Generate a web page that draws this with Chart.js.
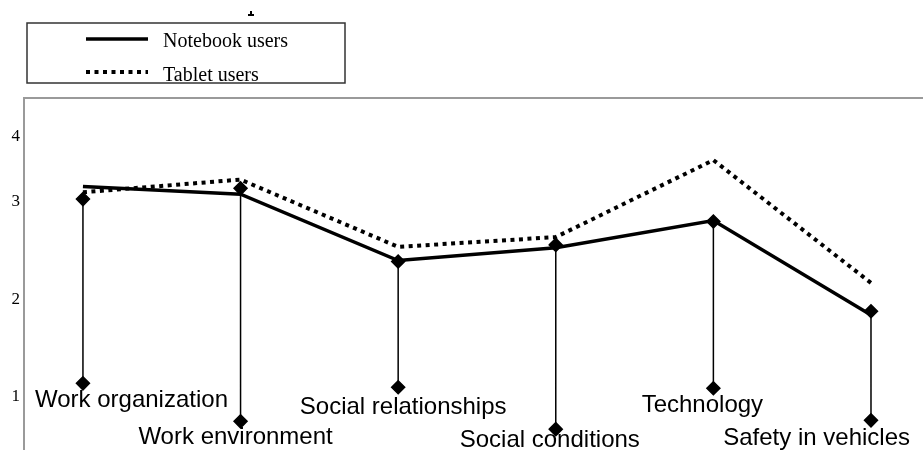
<!DOCTYPE html>
<html>
<head>
<meta charset="utf-8">
<script src="https://cdn.jsdelivr.net/npm/chart.js@4.4.1/dist/chart.umd.min.js"></script>
<style>
  html, body { margin: 0; padding: 0; background: #fff; }
  #wrap { width: 923px; height: 450px; }
</style>
</head>
<body>
<div id="wrap"><canvas id="chart" width="923" height="450"></canvas></div>
<script>
// categories along the x axis
const categories = ['Work organization', 'Work environment', 'Social relationships',
  'Social conditions', 'Technology', 'Safety in vehicles'];

// mean scores
const notebookUsers = [3.16, 3.08, 2.40, 2.53, 2.81, 1.84];
const tabletUsers = [3.10, 3.23, 2.54, 2.64, 3.43, 2.17];

// vertical marker lines under each category (top / bottom diamond)
const dropTop = [3.03, 3.14, 2.39, 2.56, 2.80, 1.88];
const dropBottom = [1.14, 0.75, 1.10, 0.67, 1.09, 0.76];

// y tick labels, and where the original figure put them
const yTickLabels = ['1', '2', '3', '4'];
const yTickValues = [1, 2, 3, 3.667];

const toPoints = arr => arr.map((v, i) => ({ x: i, y: v }));
const dropPoints = categories.flatMap((c, i) => [
  { x: i, y: dropBottom[i] }, { x: i, y: dropTop[i] }, { x: i, y: null }
]);

// no extra margins for overflowing tick labels
const noMargins = scale => {
  scale.paddingTop = 0;
  scale.paddingBottom = 0;
  scale.paddingLeft = 0;
  scale.paddingRight = 0;
};

// plot frame, legend box and category labels
const decor = {
  id: 'decor',
  beforeDatasetsDraw(chart) {
    const { ctx, chartArea } = chart;
    ctx.save();
    ctx.strokeStyle = '#9a9a9a';
    ctx.lineWidth = 2;
    ctx.beginPath();
    ctx.moveTo(chartArea.left, chartArea.bottom);
    ctx.lineTo(chartArea.left, chartArea.top);
    ctx.lineTo(chartArea.right, chartArea.top);
    ctx.stroke();
    ctx.restore();
  },
  afterDraw(chart) {
    const { ctx } = chart;
    const x = chart.scales.x, y = chart.scales.y;
    ctx.save();

    // category labels under the bottom diamonds
    const dx = [0, -5, 5, -6, -11, 0];
    const dy = [24, 23, 27, 18, 24, 25];
    ctx.font = '24px "Liberation Sans", Arial, sans-serif';
    ctx.fillStyle = '#000';
    ctx.textBaseline = 'alphabetic';
    ctx.textAlign = 'left';
    categories.forEach((c, i) => {
      const w = ctx.measureText(c).width;
      let left = x.getPixelForValue(i) + dx[i] - w / 2;
      left = Math.max(35, Math.min(910 - w, left));
      ctx.fillText(c, left, y.getPixelForValue(dropBottom[i]) + dy[i]);
    });

    // legend box
    ctx.strokeStyle = '#333';
    ctx.lineWidth = 1.5;
    ctx.strokeRect(27, 23, 318, 60);
    ctx.font = '20px "Liberation Serif", "Times New Roman", serif';
    const rows = [{ ds: chart.data.datasets[1], y: 39, base: 47 },
                  { ds: chart.data.datasets[2], y: 72, base: 81 }];
    rows.forEach(r => {
      ctx.strokeStyle = '#000';
      ctx.lineWidth = r.ds.borderWidth;
      ctx.setLineDash(r.ds.borderDash || []);
      ctx.beginPath();
      ctx.moveTo(86, r.y);
      ctx.lineTo(148, r.y);
      ctx.stroke();
      ctx.setLineDash([]);
      ctx.fillText(r.ds.label, 163, r.base);
    });

    // stray glyph fragment above the legend
    ctx.fillRect(250, 11, 2, 4);
    ctx.fillRect(248, 14, 6, 2);
    ctx.restore();
  }
};

new Chart(document.getElementById('chart'), {
  type: 'line',
  data: {
    datasets: [
      {
        label: 'markers',
        data: dropPoints,
        borderColor: '#000',
        borderWidth: 1.5,
        pointStyle: 'rectRot',
        pointRadius: 6.5,
        pointBackgroundColor: '#000',
        pointBorderColor: '#000',
        spanGaps: false,
        order: 0
      },
      {
        label: 'Notebook users',
        data: toPoints(notebookUsers),
        borderColor: '#000',
        borderWidth: 3.5,
        pointRadius: 0,
        tension: 0,
        order: 1
      },
      {
        label: 'Tablet users',
        data: toPoints(tabletUsers),
        borderColor: '#000',
        borderWidth: 4,
        borderDash: [4, 4.5],
        pointRadius: 0,
        tension: 0,
        order: 2
      }
    ]
  },
  options: {
    responsive: false,
    animation: false,
    layout: { autoPadding: false, padding: { top: 98, right: 0, bottom: 0, left: 0 } },
    plugins: {
      legend: { display: false },
      tooltip: { enabled: false },
      title: { display: false }
    },
    scales: {
      x: {
        type: 'linear',
        display: false,
        min: -0.374,
        max: 5.33,
        offset: false,
        afterFit: noMargins
      },
      y: {
        min: 0.456,
        max: 4.067,
        grid: { display: false, drawTicks: false },
        border: { display: false },
        afterBuildTicks: scale => {
          scale.ticks = yTickValues.map(v => ({ value: v }));
        },
        afterFit: scale => { scale.width = 24; noMargins(scale); },
        ticks: {
          padding: 4,
          color: '#000',
          font: { family: '"Liberation Serif", "Times New Roman", serif', size: 17 },
          callback: (v, i) => yTickLabels[i]
        }
      }
    }
  },
  plugins: [decor]
});
</script>
</body>
</html>
